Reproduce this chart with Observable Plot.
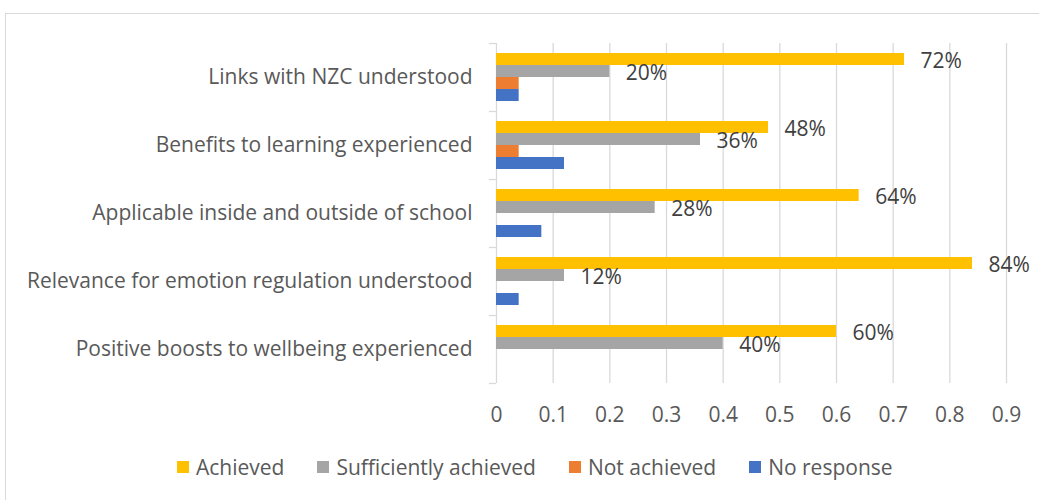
<!DOCTYPE html>
<html>
<head>
<meta charset="utf-8">
<script src="https://cdn.jsdelivr.net/npm/d3@7"></script>
<script src="https://cdn.jsdelivr.net/npm/@observablehq/plot@0.6"></script>
<style>
  html, body { margin: 0; padding: 0; background: #fff; overflow: hidden; }
  #wrap { position: relative; width: 1039px; height: 500px; font-family: "Open Sans", sans-serif; }
  #border { position: absolute; left: 5px; top: 13px; width: 1100px; height: 600px; border: 1.5px solid #D9D9D9; box-sizing: border-box; }
  #chart { position: absolute; left: 0; top: 0; }
  #legend { position: absolute; left: 177px; top: 453px; display: flex; align-items: center; font-size: 21px; color: #595959; }
  .item { display: flex; align-items: center; margin-right: 33px; }
  .sw { width: 12px; height: 12px; margin-right: 7px; }
</style>
</head>
<body>
<div id="wrap">
  <div id="border"></div>
  <div id="chart"></div>
  <div id="legend"></div>
</div>
<script>
const categories = [
  "Links with NZC understood",
  "Benefits to learning experienced",
  "Applicable inside and outside of school",
  "Relevance for emotion regulation understood",
  "Positive boosts to wellbeing experienced"
];
const series = ["Achieved", "Sufficiently achieved", "Not achieved", "No response"];
const achieved    = [0.72, 0.48, 0.64, 0.84, 0.60];
const sufficient  = [0.20, 0.36, 0.28, 0.12, 0.40];
const notAchieved = [0.04, 0.04, 0.00, 0.00, 0.00];
const noResponse  = [0.04, 0.12, 0.08, 0.04, 0.00];
const labelledSeries = ["Achieved", "Sufficiently achieved"];
const xTicks = [0, 0.1, 0.2, 0.3, 0.4, 0.5, 0.6, 0.7, 0.8, 0.9];
const colors = ["#FFC000", "#A5A5A5", "#ED7D31", "#4472C4"];

const seriesValues = [achieved, sufficient, notAchieved, noResponse];
const rows = [];
categories.forEach((c, i) => {
  series.forEach((s, j) => rows.push({category: c, series: s, value: seriesValues[j][i]}));
});

const grid = "#D9D9D9";
const chart = Plot.plot({
  width: 1039,
  height: 440,
  marginTop: 43,
  marginBottom: 57,
  marginLeft: 496,
  marginRight: 33,
  style: {fontFamily: "'Open Sans', sans-serif", fontSize: "21px", color: "#595959", background: "transparent", overflow: "visible"},
  x: {domain: [0, 0.9], ticks: xTicks, tickFormat: d => String(+d.toFixed(1)), tickSize: 0, tickPadding: 24, label: null},
  y: {domain: series, axis: null, paddingInner: 0, paddingOuter: 0.833},
  fy: {domain: categories, padding: 0, axis: "left", tickSize: 0, tickPadding: 24, label: null},
  color: {domain: series, range: colors},
  marks: [
    Plot.ruleX(xTicks, {stroke: grid, strokeWidth: 1.3}),
    Plot.ruleY(categories, {fy: d => d, y: () => series[0], dy: -16, x1: -0.0125, x2: 0, stroke: grid, strokeWidth: 1.3}),
    Plot.ruleY([categories[categories.length - 1]], {fy: d => d, y: () => series[series.length - 1], dy: 16, x1: -0.0125, x2: 0, stroke: grid, strokeWidth: 1.3}),
    Plot.barX(rows, {fy: "category", y: "series", x: "value", fill: "series", insetTop: 0, insetBottom: 0}),
    Plot.text(rows.filter(d => labelledSeries.includes(d.series)), {
      fy: "category", y: "series", x: "value",
      text: d => Math.round(d.value * 100) + "%",
      textAnchor: "start", dx: 16, dy: 2, fill: "#404040", fontSize: 21
    })
  ]
});
document.getElementById("chart").appendChild(chart);

const legend = document.getElementById("legend");
series.forEach((s, i) => {
  const it = document.createElement("div");
  it.className = "item";
  const sw = document.createElement("span");
  sw.className = "sw";
  sw.style.background = colors[i];
  const t = document.createElement("span");
  t.textContent = s;
  it.appendChild(sw);
  it.appendChild(t);
  legend.appendChild(it);
});
</script>
</body>
</html>
